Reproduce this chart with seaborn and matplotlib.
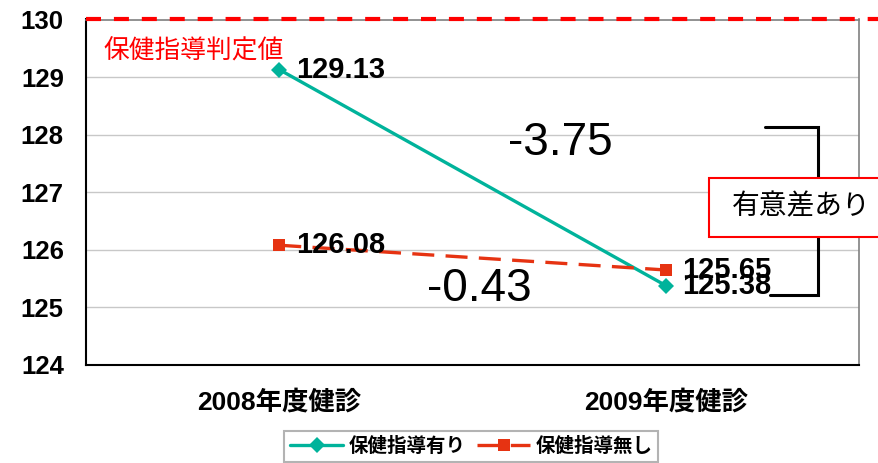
import pandas as pd
import seaborn as sns
import matplotlib.pyplot as plt
from matplotlib.lines import Line2D
from matplotlib.patches import Rectangle

# ------------------------
# Data
# ------------------------
CHECKUPS = ['2008年度健診', '2009年度健診']
WITH_GUIDANCE = [129.13, 125.38]
WITHOUT_GUIDANCE = [126.08, 125.65]
SERIES = ['保健指導有り', '保健指導無し']
THRESHOLD = 130
THRESHOLD_LABEL = '保健指導判定値'
SIG_LABEL = '有意差あり'
Y_TICKS = [124, 125, 126, 127, 128, 129, 130]

TEAL = '#00B39B'
ORANGE = '#E63312'
RED = '#FF0000'

df = pd.DataFrame({
    'pos': [0, 1, 0, 1],
    'value': WITH_GUIDANCE + WITHOUT_GUIDANCE,
    'group': [SERIES[0]] * 2 + [SERIES[1]] * 2,
})

# ------------------------
# Style
# ------------------------
sns.set_style('white')
plt.rcParams['font.family'] = ['Liberation Sans', 'Noto Sans CJK JP', 'DejaVu Sans']
plt.rcParams['text.color'] = 'black'
plt.rcParams['xtick.color'] = 'black'
plt.rcParams['ytick.color'] = 'black'

fig = plt.figure(figsize=(8.79, 4.63), dpi=100)
ax = fig.add_axes([86 / 879, 1 - 365 / 463, (859 - 86) / 879, (365 - 19.5) / 463])

# ------------------------
# Lines
# ------------------------
sns.lineplot(data=df, x='pos', y='value', hue='group', style='group',
             palette={SERIES[0]: TEAL, SERIES[1]: ORANGE},
             markers={SERIES[0]: 'D', SERIES[1]: 's'},
             dashes={SERIES[0]: '', SERIES[1]: (6.6, 3.4)},
             markersize=8.5, markeredgewidth=0, linewidth=2.4,
             legend=False, ax=ax, zorder=5)

# value labels
for vals in (WITH_GUIDANCE, WITHOUT_GUIDANCE):
    for x, v in enumerate(vals):
        ax.annotate(f'{v:.2f}', (x, v), xytext=(12, 0), textcoords='offset points',
                    va='center', ha='left', fontsize=21, fontweight='bold',
                    color='black', zorder=6)

# differences
diff_with = WITH_GUIDANCE[1] - WITH_GUIDANCE[0]
diff_without = WITHOUT_GUIDANCE[1] - WITHOUT_GUIDANCE[0]
ax.text(0.727, 127.855, f'{diff_with:.2f}', ha='center', va='center', fontsize=33)
ax.text(0.518, 125.32, f'{diff_without:.2f}', ha='center', va='center', fontsize=33)

# threshold line
ax.axhline(THRESHOLD, xmin=0, xmax=(879 - 86) / (859 - 86), color=RED, lw=3,
           dashes=(3.6, 3.1), clip_on=False, zorder=7)
ax.text(-0.456, 129.45, THRESHOLD_LABEL, color=RED, fontsize=18.5,
        ha='left', va='center')

# significance bracket and box
ax.plot([1.257, 1.394, 1.394, 1.270], [128.133, 128.133, 125.215, 125.215],
        color='black', lw=2.2, clip_on=False, zorder=4, solid_joinstyle='miter')
ax.add_patch(Rectangle((1.112, 126.223), 0.6, 127.247 - 126.223, facecolor='white',
                       edgecolor=RED, lw=1.5, clip_on=False, zorder=8))
ax.text(1.171, 126.74, SIG_LABEL, fontsize=20, ha='left', va='center', zorder=9)

# ------------------------
# Axes
# ------------------------
ax.set_xlim(-0.5, 1.5)
ax.set_ylim(124, 130)
ax.set_yticks(Y_TICKS)
ax.set_xticks([0, 1])
ax.set_xticklabels(CHECKUPS)
ax.set_xticks([0.5], minor=True)
ax.set_xlabel('')
ax.set_ylabel('')
ax.tick_params(axis='y', direction='in', length=6, width=1, pad=16, labelsize=18.5)
ax.tick_params(axis='x', which='major', length=0, pad=18, labelsize=19)
ax.tick_params(axis='x', which='minor', direction='in', length=5, width=1)
for lab in ax.get_xticklabels() + ax.get_yticklabels():
    lab.set_fontweight('bold')
ax.yaxis.grid(True, color='#C8C8C8', lw=1)
ax.set_axisbelow(True)
for side in ('left', 'bottom'):
    ax.spines[side].set_color('black')
    ax.spines[side].set_linewidth(1.5)
for side in ('right', 'top'):
    ax.spines[side].set_color('#808080')
    ax.spines[side].set_linewidth(1.2)

# ------------------------
# Legend
# ------------------------
handles = [
    Line2D([], [], color=TEAL, marker='D', markersize=8.5, markeredgewidth=0, lw=2.4),
    Line2D([], [], color=ORANGE, marker='s', markersize=8.5, markeredgewidth=0, lw=2.4,
           dashes=(6.6, 3.4)),
]
leg = fig.legend(handles, SERIES, loc='upper center', bbox_to_anchor=(471.5 / 879, 1 - 431 / 463),
                 ncol=2, frameon=True, fancybox=False, edgecolor='#A0A0A0',
                 prop={'size': 14, 'weight': 'bold'}, handlelength=2.7,
                 handletextpad=0.3, columnspacing=0.6, borderpad=0.3, borderaxespad=0)
leg.get_frame().set_linewidth(1.5)

fig.savefig('out.png', dpi=100)
